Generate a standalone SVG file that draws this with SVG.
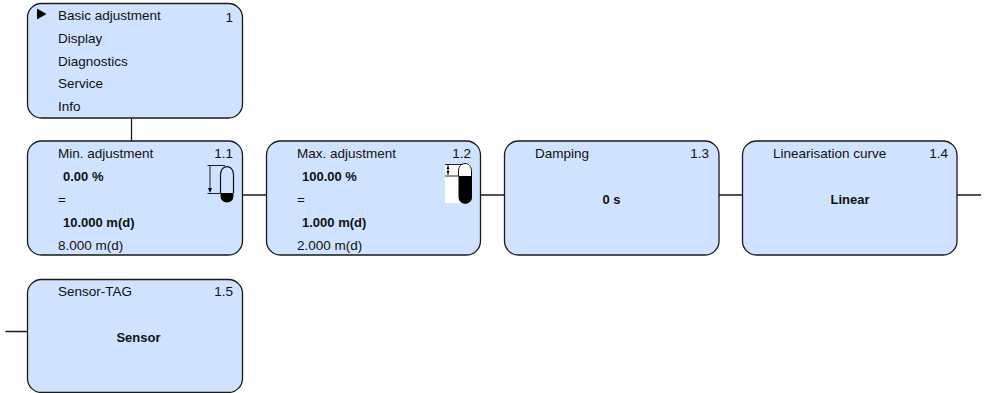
<svg xmlns="http://www.w3.org/2000/svg" width="985" height="393" viewBox="0 0 985 393">
<style>
.b{fill:#cfe2ff;stroke:#1a1a1a;stroke-width:1.3}
.c{stroke:#1a1a1a;stroke-width:1.3;fill:none}
text{font-family:"Liberation Sans",Arial,sans-serif;font-size:13.5px;fill:#111}
.s{font-weight:bold;font-size:13px}
.e{text-anchor:end}
.m{text-anchor:middle}
</style>
<rect width="985" height="393" fill="#fff"/>
<g id="connectors">
<path class="c" d="M131.500 118V141M242.500 195H266.500M480.500 195H504.500M719 195H742.500M957 195H981M5.500 331.500H27.500"/>
</g>
<g id="n1"><rect class="b" x="27.500" y="3.500" width="215" height="114.500" rx="14"/>
<path d="M37 8.500L46.500 14L37 19.500Z" fill="#000"/>
<text x="58" y="20">Basic adjustment</text><text x="233" y="22" class="e">1</text>
<text x="58" y="43">Display</text><text x="58" y="66">Diagnostics</text><text x="58" y="88">Service</text><text x="58" y="111">Info</text></g>
<g id="n1-1"><rect class="b" x="27.500" y="141" width="215" height="114" rx="14"/>
<text x="58" y="158">Min. adjustment</text><text x="233" y="158" class="e">1.1</text>
<text x="63" y="181" class="s">0.00 %</text><text x="58" y="204">=</text><text x="63" y="227" class="s">10.000 m(d)</text><text x="58" y="250">8.000 m(d)</text>
<path d="M220.500 193V174.500C220.500 164 233.500 164 233.500 174.500V193" fill="none" stroke="#111" stroke-width="1.200"/>
<path d="M220.500 193H233.500V196C233.500 204.500 220.500 204.500 220.500 196Z" fill="#000"/>
<path d="M207.500 165.500H225M207.500 193.500H220.500M210 165.500V189" fill="none" stroke="#222" stroke-width="1"/>
<path d="M208 188H212L210 193Z" fill="#000"/></g>
<g id="n1-2"><rect class="b" x="266.500" y="141" width="214" height="114" rx="14"/>
<text x="297" y="158">Max. adjustment</text><text x="471" y="158" class="e">1.2</text>
<text x="302" y="181" class="s">100.00 %</text><text x="297" y="204">=</text><text x="302" y="227" class="s">1.000 m(d)</text><text x="297" y="250">2.000 m(d)</text>
<rect x="445" y="164" width="25" height="39" fill="#fff"/>
<path d="M458.500 176V171C458.500 161 471.500 161 471.500 171V176" fill="#fff" stroke="#111" stroke-width="1"/>
<path d="M458.500 176H472V197C472 206 458.500 206 458.500 197Z" fill="#000"/>
<path d="M445 164.500H463M445 176H459M448 165V175" fill="none" stroke="#222" stroke-width="1"/>
<path d="M446.500 169H449.500L448 166ZM446.500 171H449.500L448 174Z" fill="#000"/></g>
<g id="n1-3"><rect class="b" x="504.500" y="141" width="214.500" height="114" rx="14"/>
<text x="535" y="158">Damping</text><text x="709" y="158" class="e">1.3</text><text x="611.500" y="204" class="s m">0 s</text></g>
<g id="n1-4"><rect class="b" x="742.500" y="141" width="214.500" height="114" rx="14"/>
<text x="773" y="158">Linearisation curve</text><text x="948" y="158" class="e">1.4</text><text x="850" y="204" class="s m">Linear</text></g>
<g id="n1-5"><rect class="b" x="27.500" y="279.500" width="215" height="113" rx="14"/>
<text x="58" y="296">Sensor-TAG</text><text x="233" y="296" class="e">1.5</text><text x="138.500" y="342" class="s m">Sensor</text></g>
</svg>
